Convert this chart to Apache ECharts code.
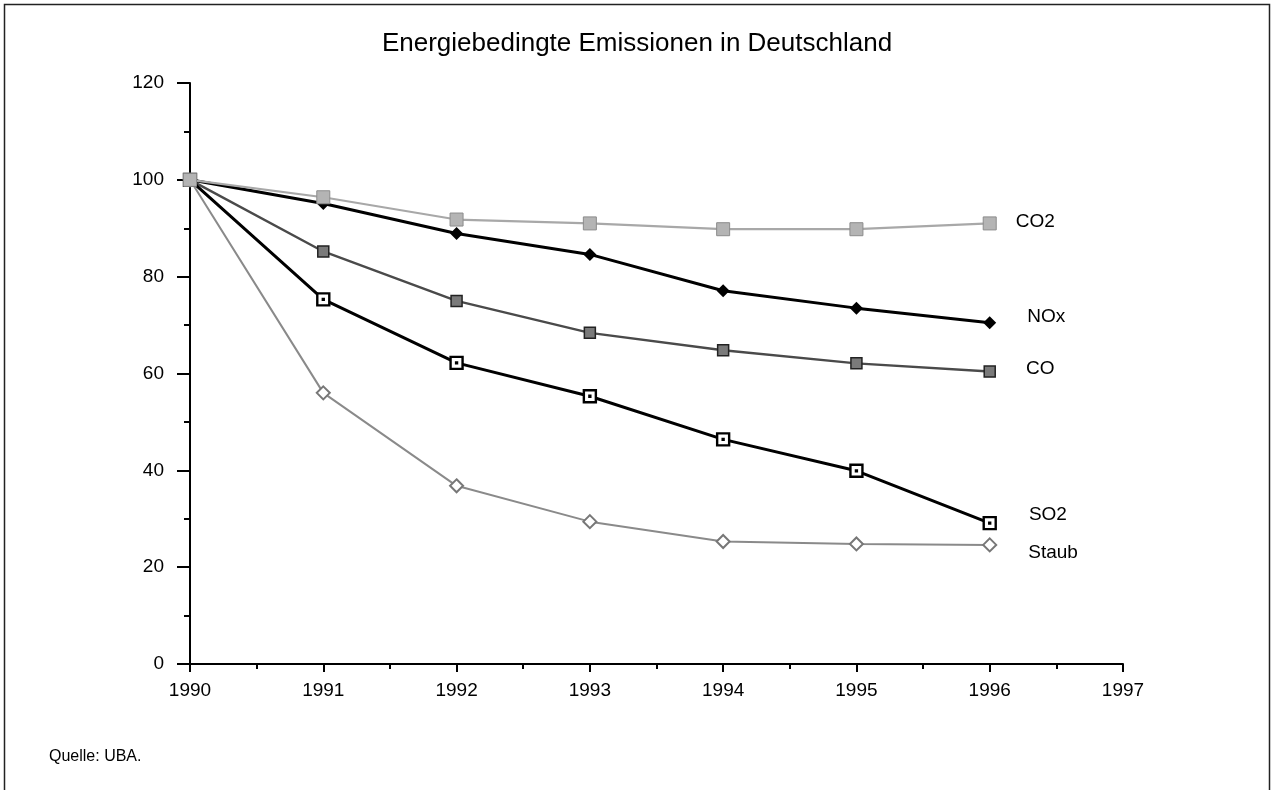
<!DOCTYPE html>
<html>
<head>
<meta charset="utf-8">
<script src="https://cdn.jsdelivr.net/npm/echarts@6/dist/echarts.min.js"></script>
<style>
html,body{margin:0;padding:0;background:#fff;}
#chart{width:1274px;height:790px;}
</style>
</head>
<body>
<div id="chart"></div>
<script>
// ---- data ----
const years = [1990, 1991, 1992, 1993, 1994, 1995, 1996];
const co2   = [100, 96.4, 91.8, 91.0, 89.8, 89.8, 91.0];
const nox   = [100, 95.1, 88.9, 84.6, 77.1, 73.5, 70.5];
const co    = [100, 85.2, 75.0, 68.4, 64.8, 62.1, 60.4];
const so2   = [100, 75.3, 62.2, 55.3, 46.4, 39.9, 29.1];
const staub = [100, 56.0, 36.8, 29.4, 25.3, 24.8, 24.6];
const seriesNames = ['CO2', 'NOx', 'CO', 'SO2', 'Staub'];
const yTicks = [0, 20, 40, 60, 80, 100, 120];
const xTicks = [1990, 1991, 1992, 1993, 1994, 1995, 1996, 1997];
const titleText = 'Energiebedingte Emissionen in Deutschland';
const sourceText = 'Quelle: UBA.';

// ---- styles ----
const FONT = '"Liberation Sans", Arial, Helvetica, sans-serif';
const so2Path = 'path://M0,0L10,0L10,10L0,10Z M4.6,4.6L5.4,4.6L5.4,5.4L4.6,5.4Z';
const styles = {
  CO2:   {line:{color:'#a8a8a8', width:2.2}, symbol:'rect', size:13, item:{color:'#b4b4b4', borderColor:'#8c8c8c', borderWidth:1}, lab:[14,-2], z:6},
  NOx:   {line:{color:'#000', width:3}, symbol:'diamond', size:13, item:{color:'#000'}, lab:[26,-6], z:4},
  CO:    {line:{color:'#4a4a4a', width:2.4}, symbol:'rect', size:11, item:{color:'#7a7a7a', borderColor:'#222', borderWidth:1.5}, lab:[25,-3], z:3},
  SO2:   {line:{color:'#000', width:3}, symbol:so2Path, size:12, item:{color:'#fff', borderColor:'#000', borderWidth:2.4}, lab:[27,-8], z:5},
  Staub: {line:{color:'#8a8a8a', width:2}, symbol:'emptyDiamond', size:13, item:{color:'#777', borderWidth:2}, lab:[26,8], z:2}
};
const values = {CO2: co2, NOx: nox, CO: co, SO2: so2, Staub: staub};

function buildData(name) {
  const arr = values[name];
  const st = styles[name];
  return years.map((y, i) => {
    if (i === years.length - 1) {
      return {
        value: [y, arr[i]],
        label: {
          show: true, position: 'right', formatter: name,
          offset: st.lab, color: '#000', fontFamily: FONT, fontSize: 19
        }
      };
    }
    return [y, arr[i]];
  });
}

const series = seriesNames.map(name => ({
  name: name,
  type: 'line',
  data: buildData(name),
  symbol: styles[name].symbol,
  symbolSize: styles[name].size,
  showAllSymbol: true,
  lineStyle: styles[name].line,
  itemStyle: styles[name].item,
  emphasis: {disabled: true},
  animation: false,
  z: styles[name].z
}));

const chart = echarts.init(document.getElementById('chart'), null, {renderer: 'canvas'});
chart.setOption({
  backgroundColor: '#fff',
  animation: false,
  title: {
    text: titleText,
    left: 'center',
    top: 26,
    textStyle: {fontFamily: FONT, fontSize: 26, fontWeight: 'normal', color: '#000'}
  },
  grid: {left: 190, right: 151, top: 83, bottom: 126, containLabel: false},
  xAxis: {
    type: 'value',
    min: xTicks[0],
    max: xTicks[xTicks.length - 1],
    interval: 1,
    axisLine: {show: true, onZero: false, lineStyle: {color: '#000', width: 2}},
    axisTick: {show: true, length: 8, lineStyle: {color: '#000', width: 2}},
    minorTick: {show: true, splitNumber: 2, length: 5, lineStyle: {color: '#000', width: 2}},
    splitLine: {show: false},
    axisLabel: {
      color: '#000', fontFamily: FONT, fontSize: 19, margin: 17,
      formatter: v => String(v)
    }
  },
  yAxis: {
    type: 'value',
    min: yTicks[0],
    max: yTicks[yTicks.length - 1],
    interval: 20,
    axisLine: {show: true, onZero: false, lineStyle: {color: '#000', width: 2}},
    axisTick: {show: true, length: 13, lineStyle: {color: '#000', width: 2}},
    minorTick: {show: true, splitNumber: 2, length: 6, lineStyle: {color: '#000', width: 2}},
    splitLine: {show: false},
    axisLabel: {color: '#000', fontFamily: FONT, fontSize: 19, margin: 26}
  },
  graphic: [
    {type: 'rect', shape: {x: 4.5, y: 4.5, width: 1265, height: 820}, style: {fill: 'none', stroke: '#222', lineWidth: 1.5}, silent: true},
    {type: 'text', left: 49, top: 749, style: {text: sourceText, font: '16px ' + FONT, fill: '#000'}}
  ],
  series: series
});
</script>
</body>
</html>
